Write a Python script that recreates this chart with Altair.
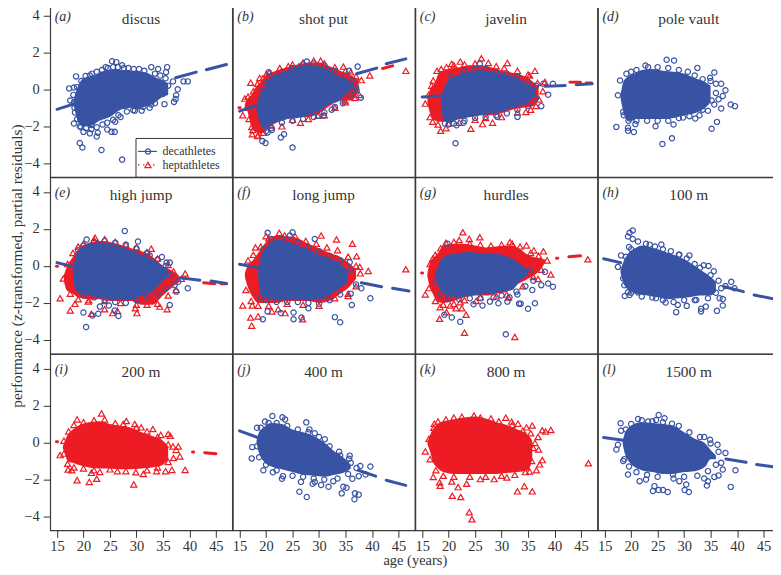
import altair as alt
import pandas as pd

BLUE = "#3953a4"
RED = "#ed1c24"
INK = "#333333"
FONT = "Liberation Serif"

X_TICKS = [15, 20, 25, 30, 35, 40, 45]
Y_TICKS = [-4, -2, 0, 2, 4]
X_DOMAIN = [13.72, 48.1]
Y_DOMAIN = [-4.75, 4.79]

# Envelopes of the solid clouds: (age, lower, upper)
A_DEC_ENV = [(18.1,-.8,-.6),(18.5,-1.3,-0.2),(19,-1.8,0.2),(20,-2.0,0.6),(21,-2.0,0.7),(22,-1.9,0.75),(23,-1.7,0.9),(24,-1.6,1.0),(25,-1.5,1.05),(26,-1.3,1.1),(27,-1.1,1.05),(28,-1.05,1.05),(29,-1.0,1.0),(30,-1.1,1.0),(31,-1.0,0.95),(32,-0.9,0.9),(33,-0.8,0.75),(34,-0.6,0.6),(35,-0.4,0.5),(36,-0.3,0.3)]
B_DEC_ENV = [(18.2,-1.1,-.9),(18.6,-1.6,-0.4),(19.5,-2.1,0),(20.5,-2.0,.55),(22,-1.8,.8),(24,-1.6,1.0),(26,-1.55,1.25),(28,-1.4,1.35),(30,-1.15,1.25),(32,-.8,1.0),(34,-.6,.7),(35.5,-.1,.5),(36.5,0,.3)]
B_HEP_ENV = [(16,-.9,-.8),(16.5,-1.2,-.5),(17.2,-2,-.3),(18,-2.3,.1),(19,-2.4,.4),(20,-2.2,.75),(22,-1.8,1.0),(24,-1.6,1.2),(26,-1.5,1.35),(28,-1.5,1.45),(30,-1.3,1.45),(32,-.9,1.25),(34,-.6,1.0),(36,-.6,.75),(37.5,-.1,.55)]
C_DEC_ENV = [(18.5,-.9,-.7),(19,-1.6,-.1),(20,-1.8,.5),(22,-1.6,.8),(24,-1.5,.95),(26,-1.4,1.05),(28,-1.3,.95),(30,-1.2,.85),(32,-1,.7),(34,-.85,.45),(35.5,-.6,.2),(36.5,-.2,.1)]
C_HEP_ENV = [(16,-.7,-.5),(16.5,-1.3,0),(17.5,-1.7,.4),(18,-1.75,.8),(19,-1.75,1),(20,-1.6,1.1),(22,-1.6,1.2),(24,-1.5,1.3),(26,-1.4,1.3),(28,-1.4,1.2),(30,-1.3,1.0),(32,-1.1,.9),(34,-1,.75),(36,-.9,.4),(37,-.5,.15)]
D_DEC_ENV = [(18,-.5,-.3),(18.5,-1.2,.4),(19,-1.6,.6),(20,-1.7,.8),(21,-1.6,.9),(22,-1.6,1.05),(24,-1.6,1.1),(26,-1.6,1.0),(28,-1.55,.95),(30,-1.4,.85),(32,-1.3,.6),(34,-1,.4),(35,-.7,.2)]
E_DEC_ENV = [(18,-.5,-.2),(18.5,-1.3,.5),(19.5,-1.5,.9),(21,-1.6,1.2),(23,-1.7,1.25),(25,-1.8,1.2),(27,-1.85,1.05),(29,-1.85,.85),(31,-1.6,.6),(33,-1.4,.35),(35,-.8,0),(36,-.6,-.2)]
E_HEP_ENV = [(16.3,-.8,-.5),(16.8,-1.3,-.1),(18,-1.5,.5),(19,-1.7,.9),(21,-1.8,1.25),(23,-1.8,1.35),(25,-1.9,1.3),(27,-1.9,1.15),(29,-1.9,.95),(31,-2.1,.8),(33,-2.1,.5),(35,-1.6,0),(37,-1.1,-.3),(38,-.9,-.5)]
F_DEC_ENV = [(18.5,-.6,-.4),(19,-1.5,.5),(20,-1.7,1),(21,-1.8,1.3),(22,-1.8,1.4),(24,-1.85,1.35),(26,-1.85,1.1),(28,-1.85,.9),(30,-1.85,.6),(32,-1.6,.4),(34,-1.2,.1),(35.5,-.9,-.3)]
F_HEP_ENV = [(16,-.6,-.4),(16.5,-1.1,0),(17.5,-1.7,.3),(18.5,-2,.7),(20,-2,1.3),(22,-2,1.65),(24,-1.9,1.6),(26,-1.9,1.5),(28,-1.9,1.2),(30,-2,.95),(32,-1.9,.7),(34,-1.5,.5),(35.5,-1.2,.2),(37,-.7,-.2)]
G_DEC_ENV = [(17.4,-.6,-.4),(17.8,-.9,-.2),(18.5,-1.3,.3),(20,-1.6,.6),(22,-1.7,.7),(24,-1.6,.75),(26,-1.55,.7),(28,-1.5,.7),(30,-1.4,.6),(32,-1.3,.4),(33.5,-.8,.1),(35,-.5,-.2)]
G_HEP_ENV = [(16,-.6,-.4),(16.5,-1.2,.2),(17,-1.5,.4),(18,-1.95,.7),(19,-2,1.1),(21,-1.9,1.2),(23,-1.7,1.2),(25,-1.6,1.1),(27,-1.6,1.0),(29,-1.5,1.05),(31,-1.4,1.1),(33,-1,1),(35,-.7,.6),(37,-.3,.4),(38.3,.2,.35)]
H_DEC_ENV = [(18,-.4,-.2),(18.5,-.9,.2),(19.5,-1.3,.7),(21,-1.5,1),(22,-1.55,1.1),(23,-1.6,1.05),(25,-1.7,.9),(27,-1.8,.7),(29,-1.75,.5),(31,-1.7,.2),(33,-1.6,-.2),(35,-1.6,-.6),(36,-1.4,-.85)]
I_HEP_ENV = [(16.1,-.3,-.2),(16.5,-.6,.1),(17,-1,.4),(18,-1.1,.7),(19,-1.2,.9),(21,-1.35,1.1),(23,-1.4,1.15),(25,-1.4,1.0),(27,-1.45,.9),(29,-1.45,.8),(31,-1.4,.55),(33,-1.35,.35),(35,-1.2,.1),(36,-.9,-.2)]
J_DEC_ENV = [(18.2,0,.1),(18.6,-.5,.5),(19.5,-1,.8),(21,-1.3,1.05),(23,-1.45,1),(25,-1.6,.7),(27,-1.75,.55),(29,-1.8,.35),(31,-1.85,0),(33,-1.75,-.5),(35,-1.6,-.9),(36,-1.4,-1.2)]
K_HEP_ENV = [(16,-.1,0),(16.5,-.5,.4),(17,-1,.7),(18,-1.4,1),(19,-1.6,1.15),(21,-1.7,1.25),(23,-1.7,1.35),(25,-1.7,1.4),(27,-1.7,1.3),(29,-1.7,1.1),(31,-1.65,.95),(33,-1.6,.7),(35,-1.5,.4),(35.8,-.9,.1)]
L_DEC_ENV = [(18.4,-.1,.1),(18.8,-.6,.5),(19.5,-1,.8),(20.5,-1.3,1),(22,-1.5,1.1),(24,-1.6,1.05),(26,-1.7,1),(28,-1.7,.9),(30,-1.6,.55),(32,-1.55,.2),(34,-1.3,-.05),(35,-.9,-.4),(36,-.9,-.7)]

# Scattered athletes outside the clouds: (age, performance)
A_DEC_PTS = [(17.3,.05),(18.6,.7),(18.2,.1),(18.8,.12),(18.1,-.3),(17.5,-.6),(18.4,-1.25),(18.2,-1.85),(20,-2.3),(21.2,-2.38),(22.7,-2.35),(22.5,-2.55),(19.3,-2.9),(19.8,-3.15),(23.4,-3.28),(27.3,-3.8),(24.5,-2.17),(25.3,-2.3),(25.9,-2.3),(26,-1.75),(25.4,1.52),(26.2,1.47),(27.3,1.3),(24.2,1.2),(32.8,1.2),(35.8,1.2),(34.1,1.1),(35.6,.93),(36.9,.43),(38.9,.43),(39.7,.43),(37.8,0),(37.5,-.32),(37.4,-.52),(37.1,-.68),(35.3,-.8),(32.8,-.82),(31.3,-.95),(29.4,-1.13),(27,-1.5),(19.3,-2),(21.5,-1.93),(21.2,.75),
(19.6,.45),(20.4,.72),(21.6,.85),(22.5,.95),(23.5,1.05),(24.6,1.15),(25.6,1.2),(26.5,1.2),(27.6,1.15),(28.5,1.15),(29.5,1.1),(30.5,1.1),(31.5,1.0),(33.5,.85),(34.5,.75),(35.5,.6),(36,.2),(35,-.25),(33.5,-.75),(32.5,-1.0),(31,-1.15),(29.7,-1.15),(28.2,-1.2),(26.6,-1.4),(25.6,-1.65),(24.5,-1.8),(23.6,-1.9),(22.5,-2.05),(21.5,-2.15),(20.5,-2.1),(19.5,-2.05),(18.8,-1.6),(18.3,-1.0),(18.2,-.7)]
B_DEC_PTS = [(37.3,1.23),(27.7,1.5),(20.5,.93),(37.9,-.45),(37.1,-.05),(32.4,-1.1),(30.9,-1.43),(29.9,-1.43),(19.3,-2.8),(19.9,-2.9),(22.8,-2.6),(23.4,-2.43),(25,-3.15),(21.1,-2.2),(20.3,-2.33),(32,1.0),(35.7,1),
(19.2,-.1),(20,.35),(21.2,.7),(23,.95),(25,1.15),(27,1.35),(29,1.4),(31,1.3),(33,1.0),(35,.75),(36.2,.5),(37,.1),(36,-.3),(34.5,-.75),(33,-.95),(31,-1.25),(29,-1.5),(27,-1.6),(25,-1.7),(23,-1.8),(21,-2.1),(20,-2.25)]
B_HEP_PTS = [(17.1,.36),(16,-.5),(15.6,-1.4),(24.2,1.25),(26.2,1.25),(30.3,1.55),(34.6,1.23),(36,.93),(46.4,1.0),(17.3,-2.03),(17.4,-2.43),(18.4,-2.53),(23,-2),(26.5,-1.8),(34.9,-.6),(36.8,-.47),(35.6,-.3),(39.6,.75),(18.8,.62),(20.1,.84),(29.8,-1.43),
(16.6,-.4),(17.6,-.1),(18.4,.3),(19.4,.6),(20.6,.9),(22.6,1.15),(25,1.35),(27,1.45),(29,1.55),(31,1.4),(33,1.2),(35,1),(37,.7),(38,.5),(37.6,-.3),(35,-.7),(33,-1),(31,-1.4),(28,-1.6),(25,-1.65),(21,-1.95),(19.5,-2.35),(18.5,-2.5),(17.5,-2.2),(16.8,-1.6),(16.3,-1)]
C_DEC_PTS = [(21.3,-2.92),(33,-1.49),(37.5,-.91),(38.8,-.29),(39.7,.3),(29.2,-1.49),(21.5,-1.94),(19.3,-1.85),(22.8,-1.81),(25.9,1.38),(37.9,.3),
(20.5,.7),(23,1),(25,1.1),(27,1.1),(29,.95),(31,.85),(33,.7),(35,.4),(36.5,.2),(36.5,-.5),(35,-.9),(33,-1.1),(31,-1.3),(29,-1.4),(27,-1.5),(25,-1.55),(23,-1.7),(21,-1.85),(20,-1.9)]
C_HEP_PTS = [(26.2,1.68),(22.2,1.5),(20.6,1.38),(17.8,1),(36.3,1),(31.1,1.43),(27.5,1.43),(15.6,-.77),(16.5,-1.5),(18.5,-2.24),(19.5,-2.1),(24.2,-2.13),(26.4,-1.88),(28.3,-1.8),(34.6,-1.22),(37.1,-.55),(35.3,.75),(38.2,.4),(17.1,.48),
(16.2,-.3),(16.8,.2),(18.6,1.1),(19.6,1.2),(21,1.3),(23,1.35),(25,1.4),(29,1.25),(30.5,1.15),(33,1),(35,.8),(36.8,.35),(37.8,-.1),(36.5,-.9),(35.5,-1.1),(33,-1.25),(30,-1.5),(27,-1.55),(25,-1.65),(22,-1.8),(20,-1.85),(18,-1.9),(17,-1.75)]
D_DEC_PTS = [(26.7,1.6),(28.1,1.56),(32.5,1.16),(35.7,.91),(17.2,-2.03),(19.4,-2.08),(19.4,-2.24),(20.5,-2.31),(20.8,-1.88),(24.6,-2),(28,-1.9),(25.9,-2.96),(27.7,-2.65),(36.2,-1.76),(35.2,-2.13),(39.6,-.91),(38.8,-.82),(37.8,-.05),(37.3,-.36),(36.5,-.54),(37,-1.04),(35.7,-.82),(34.5,-1.16),(32.9,-1.4),(32.1,-1.58),(37,.3),(34.9,.63),(17.5,-.32),(17.9,.48),(18.5,-1.22),(19.7,-1.58),(22.7,1.29),(19.1,.84),(29.8,-1.52),
(20,.95),(21,1.05),(23.2,1.2),(25,1.2),(27,1.15),(29,1.05),(30.7,.95),(32,.75),(33.5,.55),(35,.45),(36,.3),(36,-.2),(35.2,-.6),(33.5,-1.1),(31,-1.45),(29,-1.55),(27,-1.7),(25,-1.7),(23,-1.7),(21,-1.7),(19.5,-1.7),(18.6,-1.4)]
E_DEC_PTS = [(27.8,1.89),(30.3,1.32),(20.6,1.43),(20,-2.52),(20.5,-3.3),(21.7,-2.68),(22.8,-2.59),(23.1,-2.2),(25.9,-2.41),(26.6,-2.71),(24.8,-2.14),(36.3,-2.11),(39.7,-1.21),(37.5,-1.39),(36.3,.18),(34.8,.48),(35.7,.18),(32.5,.57),(37.2,-1.04),(37.9,-.86),
(19,.85),(20,1.1),(22,1.3),(24,1.35),(26,1.25),(28,1.15),(30,.95),(32,.7),(34,.35),(35.5,0),(36.5,-.5),(35.5,-1.2),(34,-1.5),(32,-1.7),(30,-1.85),(28,-2),(26,-1.95),(24,-1.85),(22,-1.7),(20,-1.6)]
E_HEP_PTS = [(15.6,-1.75),(16.2,-.68),(18.4,-2.05),(17.5,-2.41),(21.5,-2.59),(25.5,-2.55),(26.4,-2.43),(30.1,-2.55),(29.8,-2.29),(35.8,-2.34),(32.8,.93),(22.2,1.52),(39.2,-.41),(34.4,-2.2),(24,-2.34),(20.9,-1.93),
(17,.1),(18,.7),(19,1.05),(20,1.2),(22,1.4),(24,1.45),(26,1.3),(28,1.15),(30,1),(32,.75),(34,.4),(36,.05),(37,-.3),(38.5,-.7),(37.5,-1.3),(36,-1.6),(34,-2.05),(32,-2.1),(30,-2.1),(27,-2),(24,-1.9),(21,-1.85),(19,-1.8),(17.5,-1.5)]
F_DEC_PTS = [(20.3,1.79),(25,1.82),(29.2,1.46),(24.5,1.64),(19.4,-2.88),(20.3,-2.46),(22.8,-2.55),(25.2,-2.88),(25.2,-2.52),(26.7,-2.79),(33,-2.77),(34,-3.05),(39.7,-1.75),(36.2,-2.11),(38,-1.21),(28,-2.29),(35.8,.2),
(19.5,.9),(21,1.45),(23,1.5),(26,1.25),(28,1),(30,.8),(32,.55),(34,.3),(36,-.2),(37,-1),(36,-1.5),(34,-1.55),(32,-1.85),(30,-2.05),(28,-2),(26,-1.95),(24,-1.95),(22,-1.95),(20,-1.85),(19,-1.7)]
F_HEP_PTS = [(15.6,-2.14),(17.1,-2.79),(18.5,-2.73),(17.3,-3.23),(17.4,-2.14),(46.4,-.18),(20,1.61),(22.5,1.79),(30.4,1.64),(18,1),(36.3,1.2),(37.1,.52),(37.7,-.05),(39.3,-.27),(33.3,1.43),(26.9,-2.88),(23.6,-2.55),(22.3,-2.34),(21.1,-2.46),(35.5,-1.63),
(16.6,.3),(17.6,.6),(19,1.05),(20.5,1.5),(23.5,1.65),(25.5,1.6),(27.5,1.35),(29.5,1.2),(31.5,1),(33.5,.85),(35.5,.5),(37,0),(37.8,-.4),(37,-1.1),(35.5,-1.5),(33,-1.75),(30,-2.15),(27,-2.1),(24,-2.05),(20.5,-2.15),(18.5,-2.15),(17.2,-1.9),(16.2,-1.3)]
G_DEC_PTS = [(30.8,-3.7),(22.2,-3.02),(20.6,-2.79),(19.2,-2.64),(35,-2.32),(36.3,-2.02),(33.3,-2.04),(33.6,-2.04),(31.1,-1.93),(27.8,-1.93),(26.4,-2.14),(24.7,-2.07),(29.4,-2.02),(39.7,-1.13),(38.8,-.95),(37.5,-1.04),(35.8,-1.3),(32.8,-1.39),(38.2,-.32),(19.8,1.2),
(36,-.8),(34.5,-1.1),(33,-1.55),(31.5,-1.7),(30,-1.6),(28.5,-1.7),(26,-1.75),(24,-1.75),(22,-1.8),(20,-1.75),(18.5,-1.5),(17.6,-.9),(35.5,-.2)]
G_HEP_PTS = [(22.7,1.82),(23.9,1.46),(25.9,1.55),(31.6,1.29),(34.7,1.11),(36.1,.84),(37.9,.79),(46.3,.36),(15.6,-1.54),(18.4,-2.23),(18.3,-2.86),(19.6,-2.5),(20.3,-2.14),(21.4,-2.29),(22.5,-2.29),(23.3,-2.64),(23,-3.61),(32.5,-3.84),(25.2,-1.89),(31.3,-1.71),(39.3,-.46),(17,.39),(22.2,-1.96),(36.9,-.71),
(16.5,.1),(17.5,.6),(18.5,.95),(19.5,1.25),(21,1.3),(22,1.4),(24,1.2),(26,1.15),(28,1.1),(30,1.15),(32,1.2),(33.5,1.05),(35.5,.7),(37,.55),(38.6,.3),(37.5,-.2),(36,-.6),(34,-1.1),(31,-1.55),(29,-1.65),(26,-1.7),(23,-1.85),(21,-2.05),(19,-2.1),(17.5,-1.9),(16.3,-1.2)]
H_DEC_PTS = [(20.3,1.92),(19.7,1.79),(19.4,1.59),(20.3,1.46),(21.3,1.32),(19.6,1.02),(25.7,1.16),(22.8,1.2),(18.1,.57),(17.5,-.05),(18.5,-.68),(19.4,-1.43),(18.8,-1.63),(19.7,-1.57),(21.3,-1.43),(24.7,-1.75),(26.5,-1.98),(28.5,-2.5),(28.8,-2.11),(30.5,-2.16),(32.3,-1.84),(33.2,-2.32),(33.2,-2.46),(34.1,-2.2),(36.2,-2.43),(37.3,-2.14),(37.3,-1.79),(36.7,-1.75),(33.7,.04),(34.6,0),(35.6,-.29),(38.9,-.86),(37.8,-1.09),(39.5,-1.21),(31,.57),(29.1,.61),(37,-1.21),
(19,.5),(20,.9),(23.5,1.15),(24.5,1.05),(26,.9),(27.5,.8),(29,.6),(30.5,.4),(32,.1),(33,-.1),(35,-.5),(36.5,-.8),(36,-1.45),(34.5,-1.75),(32,-1.85),(30,-1.85),(28,-1.95),(26,-1.85),(24,-1.7),(22,-1.65),(20,-1.45),(18.7,-1.05)]
I_HEP_PTS = [(23.4,1.57),(18.8,1.25),(28.1,1.16),(29.7,1),(30.9,.82),(33.1,.73),(34.6,.41),(36,.46),(36.4,.36),(36.9,-.21),(37.9,-.21),(37,-.84),(38.2,-.75),(39.2,-1.48),(36.7,-1.48),(35.5,-1.55),(18.8,-2.04),(21.1,-2.13),(22.5,-1.96),(29.5,-2.27),(21.5,-1.64),(31.3,-1.7),(15.6,-.68),(17.1,-1.46),(17.8,-1.5),(26.4,-1.55),(29.9,-1.61),(23.1,-1.59),(33.8,-1.55),
(16.3,.1),(17.2,.6),(18.2,.95),(20,1.1),(22,1.2),(24,1.25),(26,1.05),(27.5,1),(30,.8),(32,.6),(34,.3),(36,-.1),(37.5,-.4),(36,-1.05),(34,-1.35),(32,-1.5),(28,-1.55),(25,-1.45),(22,-1.5),(20,-1.4),(18.2,-1.35),(17,-1.15),(16.3,-.6)]
J_DEC_PTS = [(21.2,1.43),(23.1,1.36),(23.6,1.25),(19.8,1.13),(18.3,.8),(27.6,1.09),(28.2,.71),(29.2,.5),(31.1,.18),(33.8,-.5),(35.8,-.71),(35.7,-.88),(39.7,-1.3),(37.8,-1.27),(37.1,-1.38),(37.5,-1.82),(36.3,-1.96),(38.8,-1.73),(36.7,-3.07),(36.8,-2.75),(37.5,-2.82),(34.3,-2.75),(35.2,-2.45),(34.6,-2.39),(32.7,-2.09),(31.8,-2.39),(30.4,-2.3),(29.2,-2.13),(28.8,-2.23),(27.7,-2.95),(26.3,-2.66),(26.6,-2.13),(23.2,-1.82),(23,-1.96),(21.3,-1.61),(19.5,-1.5),(17.3,-.86),(17.4,-.25),(18.3,-.2),
(19,.8),(20.5,1.05),(22,1.05),(24,.9),(26,.7),(28,.55),(30,.3),(32,-.2),(34,-.7),(36,-1.1),(35.5,-1.7),(33.5,-1.95),(31,-2),(29,-1.95),(27,-1.85),(25,-1.8),(22,-1.5),(20,-1.2),(18.7,-.8)]
K_HEP_PTS = [(15.6,-.48),(17.3,1.02),(18,1.14),(24.8,1.46),(30.8,1.34),(31.9,1.13),(33.1,1.02),(34.7,.82),(35.8,.92),(37.7,.66),(38.3,.59),(39.3,.68),(36.9,.3),(36.3,-.02),(37,-.38),(37.7,-.95),(37.2,-1.18),(36.6,-1.5),(35.3,-1.57),(46.4,-1.12),(18.3,-2.16),(18.4,-2.34),(20.7,-2.88),(22.3,-2.95),(23.9,-3.77),(24.4,-4.15),(33,-2.64),(34.3,-2.36),(35.8,-2.64),(21.8,-2.41),(23.4,-2.23),(20.6,-2.11),(17.1,-1.86),(26,-1.98),(28.6,-1.98),(31,-1.89),
(16.3,.2),(17.2,.8),(19.5,1.25),(21,1.35),(22.5,1.4),(26,1.35),(28,1.3),(29.5,1.15),(32,.95),(34,.65),(35.5,.5),(36,-.3),(35.7,-1),(34.5,-1.6),(32.5,-1.75),(30,-1.8),(27,-1.85),(24,-1.85),(21,-1.85),(19,-1.8),(17.6,-1.5),(16.5,-.9)]
L_DEC_PTS = [(25.2,1.49),(24.7,1.22),(26.3,1.31),(21.3,1.27),(18,1.04),(18.1,.64),(23.2,1.13),(27.7,1.02),(33.8,.3),(34.9,.15),(36.3,-.12),(37.8,-.57),(37,-1.1),(37.3,-1.46),(39.7,-1.5),(38.8,-2.4),(34.3,-2.33),(34.5,-2.1),(35.7,-1.86),(36.5,-1.78),(33.8,-1.95),(30.9,-2.68),(30.1,-2.57),(30.4,-2.27),(26.9,-2.68),(26,-2.57),(25.2,-2.57),(24.1,-2.62),(24.4,-2.36),(21.6,-2.09),(22.8,-2),(19.4,-1.73),(18.5,-1),(17.2,-.38),(17.5,-.12),(29.1,-2.09),(27.9,-1.73),
(19,.7),(20,1),(22,1.2),(24,1.15),(26,1.1),(29,.9),(31,.55),(33,.3),(35,-.05),(36.5,-.5),(36,-1.2),(34.5,-1.55),(32.5,-1.8),(30,-1.85),(28,-1.95),(25,-1.85),(23,-1.75),(21,-1.6),(19.6,-1.3),(18.7,-.9)]

# Fitted-line pieces that stay visible: (age from, value from, age to, value to)
A_DEC_FIT = [(15,-1.08,18.4,-.77),(37.4,.63,41.3,.93),(43.2,1.06,47,1.34)]
B_DEC_FIT = [(15,-1.18,18,-.9),(37.1,.84,40.9,1.15),(42.7,1.38,46.4,1.65)]
B_HEP_FIT = [(14.9,-1.0,15.1,-1.0),(42,1.13,43.9,1.27)]
C_DEC_FIT = [(15,-.41,19,-.35),(38.2,.16,42,.21),(44.1,.25,47.1,.3)]
C_HEP_FIT = [(42.9,.39,44.9,.38),(46,.34,47,.34)]
D_DEC_FIT = []
E_DEC_FIT = [(15,.18,18.4,-.07),(38.2,-.64,42,-.77),(44.1,-.82,47,-.95)]
E_HEP_FIT = [(14.9,-.02,15.1,-.02),(42.7,-.91,44.8,-.96),(46,-.96,47,-.96)]
F_DEC_FIT = [(15,.09,18.6,-.1),(38,-.91,41.8,-1.13),(43.9,-1.21,47,-1.36)]
G_HEP_FIT = [(14.9,-.38,15.1,-.38),(40.4,.41,40.6,.41),(42.7,.5,44.9,.55)]
H_DEC_FIT = [(14.8,.39,18,.18),(37.6,-1.13,41.2,-1.39),(43.2,-1.57,47,-1.79)]
I_HEP_FIT = [(14.9,.04,15.1,.04),(40.6,-.52,40.8,-.52),(42.9,-.55,45,-.61)]
J_DEC_FIT = [(15,.63,18.4,.27),(37.4,-1.5,40.7,-1.82),(42.7,-2.04,46.4,-2.32)]
L_DEC_FIT = [(14.8,.27,18.5,.12),(37.9,-.89,41.7,-1.07),(43.7,-1.19,47,-1.32)]

TITLES = ["discus","shot put","javelin","pole vault","high jump","long jump","hurdles","100 m","200 m","400 m","800 m","1500 m"]
LETTERS = ["(a)","(b)","(c)","(d)","(e)","(f)","(g)","(h)","(i)","(j)","(k)","(l)"]
DEC_ENVS = [A_DEC_ENV,B_DEC_ENV,C_DEC_ENV,D_DEC_ENV,E_DEC_ENV,F_DEC_ENV,G_DEC_ENV,H_DEC_ENV,[],J_DEC_ENV,[],L_DEC_ENV]
HEP_ENVS = [[],B_HEP_ENV,C_HEP_ENV,[],E_HEP_ENV,F_HEP_ENV,G_HEP_ENV,[],I_HEP_ENV,[],K_HEP_ENV,[]]
DEC_PTS = [A_DEC_PTS,B_DEC_PTS,C_DEC_PTS,D_DEC_PTS,E_DEC_PTS,F_DEC_PTS,G_DEC_PTS,H_DEC_PTS,[],J_DEC_PTS,[],L_DEC_PTS]
HEP_PTS = [[],B_HEP_PTS,C_HEP_PTS,[],E_HEP_PTS,F_HEP_PTS,G_HEP_PTS,[],I_HEP_PTS,[],K_HEP_PTS,[]]
DEC_FITS = [A_DEC_FIT,B_DEC_FIT,C_DEC_FIT,D_DEC_FIT,E_DEC_FIT,F_DEC_FIT,[],H_DEC_FIT,[],J_DEC_FIT,[],L_DEC_FIT]
HEP_FITS = [[],B_HEP_FIT,C_HEP_FIT,[],E_HEP_FIT,[],G_HEP_FIT,[],I_HEP_FIT,[],[],[]]

W, H = 182.5, 176.8
one = alt.Data(values=[{}])


def scales(i):
    col, row = i % 4, i // 4
    xaxis = None
    yaxis = None
    common = dict(format="d", grid=False, domain=False, tickColor=INK, labelColor=INK,
                  labelFont=FONT, labelFontSize=14.5, labelFlush=False, labelOverlap=False)
    if row == 2:
        if col == 1:
            xaxis = alt.Axis(values=X_TICKS, title="age (years)", titleFont=FONT, titleFontSize=14.5,
                             titleFontWeight="normal", titleColor=INK, titleX=W, titleY=34.5,
                             titleAlign="center", titleBaseline="alphabetic",
                             tickSize=7, labelPadding=2, **common)
        else:
            xaxis = alt.Axis(values=X_TICKS, title=None, tickSize=7, labelPadding=2, **common)
    if col == 0:
        if row == 1:
            yaxis = alt.Axis(values=Y_TICKS, title="performance (z-transformed, partial residuals)", titleFont=FONT,
                             titleFontSize=15.4, titleFontWeight="normal", titleColor=INK,
                             titleX=-26, titleY=H / 2, tickSize=7, labelPadding=4, **common)
        else:
            yaxis = alt.Axis(values=Y_TICKS, title=None, tickSize=7, labelPadding=4, **common)
    x = alt.X("age:Q", scale=alt.Scale(domain=X_DOMAIN, nice=False, zero=False), axis=xaxis)
    y = alt.Y("v:Q", scale=alt.Scale(domain=Y_DOMAIN, nice=False, zero=False), axis=yaxis)
    return x, y


def panel(i):
    x, y = scales(i)
    layers = []
    series = [(HEP_ENVS[i], HEP_PTS[i], HEP_FITS[i], RED, "triangle-up", 38),
              (DEC_ENVS[i], DEC_PTS[i], DEC_FITS[i], BLUE, "circle", 28)]
    for env, pts, fit, colour, shape, size in series:
        if env:
            e = pd.DataFrame(env, columns=["age", "lo", "hi"]).assign(v=lambda d: d.lo)
            layers.append(alt.Chart(e).mark_area(color=colour, opacity=1, interpolate="monotone")
                          .encode(x=x, y=y, y2="hi:Q"))
        if pts:
            p = pd.DataFrame(pts, columns=["age", "v"])
            layers.append(alt.Chart(p).mark_point(shape=shape, size=size, color=colour, filled=False,
                                                  strokeWidth=1.2, opacity=1)
                          .encode(x=x, y=y))
    for env, pts, fit, colour, shape, size in series:
        if fit:
            rows = []
            for k, (a0, v0, a1, v1) in enumerate(fit):
                rows += [{"age": a0, "v": v0, "k": k}, {"age": a1, "v": v1, "k": k}]
            layers.append(alt.Chart(pd.DataFrame(rows)).mark_line(color=colour, strokeWidth=3, strokeCap="round")
                          .encode(x=x, y=y, detail="k:N", order="age:Q"))
    layers.append(alt.Chart(one).mark_text(text=TITLES[i], font=FONT, fontSize=15.4, color=INK, align="center", baseline="middle")
                  .encode(x=alt.value(91), y=alt.value(18)))
    layers.append(alt.Chart(one).mark_text(text=LETTERS[i], font=FONT, fontSize=14, fontStyle="italic", color=INK, align="left", baseline="middle")
                  .encode(x=alt.value(4.5), y=alt.value(16)))
    if i == 0:
        layers += [
            alt.Chart(one).mark_rect(fill="white", stroke=INK, strokeWidth=1)
            .encode(x=alt.value(86), x2=alt.value(W), y=alt.value(138), y2=alt.value(H)),
            alt.Chart(one).mark_rule(color=BLUE, strokeWidth=1.2)
            .encode(x=alt.value(88), x2=alt.value(107), y=alt.value(151)),
            alt.Chart(one).mark_rule(color=RED, strokeWidth=1.2, strokeDash=[1.5, 3.5])
            .encode(x=alt.value(88), x2=alt.value(107), y=alt.value(164.5)),
            alt.Chart(one).mark_point(shape="circle", size=28, color=BLUE, filled=False, opacity=1, strokeWidth=1.2)
            .encode(x=alt.value(98), y=alt.value(151)),
            alt.Chart(one).mark_point(shape="triangle-up", size=38, color=RED, filled=False, opacity=1, strokeWidth=1.2)
            .encode(x=alt.value(98), y=alt.value(164.5)),
            alt.Chart(one).mark_text(text="decathletes", font=FONT, fontSize=12, color=INK, align="left", baseline="middle")
            .encode(x=alt.value(112.6), y=alt.value(151)),
            alt.Chart(one).mark_text(text="heptathletes", font=FONT, fontSize=12, color=INK, align="left", baseline="middle")
            .encode(x=alt.value(112.6), y=alt.value(164.5)),
        ]
    return alt.layer(*layers).properties(width=W, height=H)


chart = alt.concat(*[panel(i) for i in range(12)], columns=4, spacing=0, bounds="flush").properties(
    padding={"left": 0.3, "top": -8.9, "right": -8.5, "bottom": -1}
).configure_view(stroke="#3a3a3a", strokeWidth=1.2)

chart.save("out.html", embed_options={"renderer": "svg", "actions": False})
